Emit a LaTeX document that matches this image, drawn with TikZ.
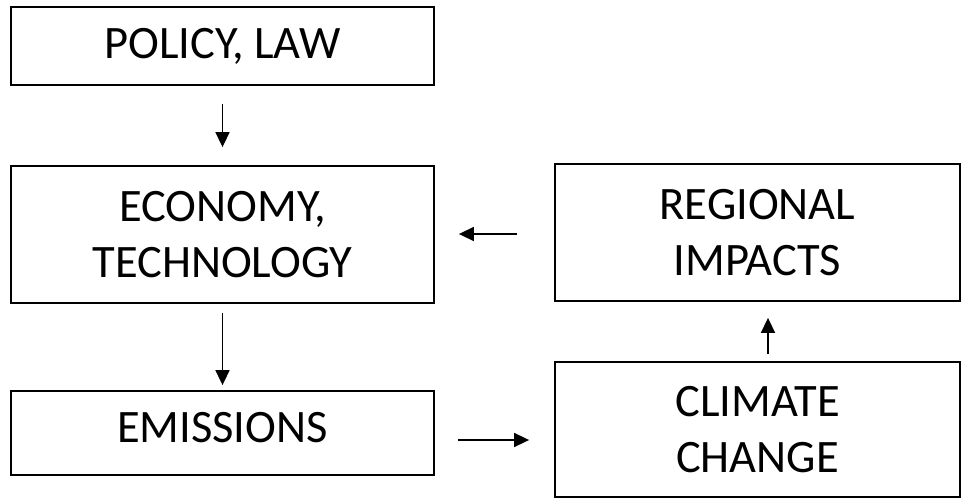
\documentclass[tikz,border=0pt]{standalone}
\usepackage{fontspec}
\setmainfont{Carlito}
\usetikzlibrary{arrows.meta}

\tikzset{
  box/.style={draw, line width=1.8pt, inner sep=0pt, align=center,
    font=\fontsize{46.5pt}{56pt}\selectfont},
  leftbox/.style={box, minimum width=423pt},
  rightbox/.style={box, minimum width=405pt},
  flow/.style={-{Triangle[length=15pt,width=14pt]}, line width=1.6pt}
}

\begin{document}
\begin{tikzpicture}[x=1pt,y=-1pt]
\useasboundingbox (0,0) rectangle (967,498);

\node[leftbox, minimum height=78pt] (policy) at (222.5,46) {POLICY, LAW};
\node[leftbox, minimum height=137pt] (economy) at (222.5,234.5) {ECONOMY,\\TECHNOLOGY};
\node[leftbox, minimum height=84pt, text depth=11pt] (emissions) at (222.5,433) {EMISSIONS};
\node[rightbox, minimum height=137pt] (regional) at (757.5,232.5) {REGIONAL\\IMPACTS};
\node[rightbox, minimum height=135pt] (climate) at (757.5,429.5) {CLIMATE\\CHANGE};

\draw[flow, shorten <=18pt, shorten >=18pt] (policy) -- (economy);
\draw[flow, shorten <=9pt, shorten >=5pt] (economy) -- (emissions);
\draw[flow, shorten <=23pt, shorten >=25pt]
  ([yshift=-7pt]emissions.east) -- ([yshift=-7pt]emissions.east -| climate.west);
\draw[flow, shorten <=7pt, shorten >=16pt]
  ([xshift=10.5pt]climate.north) -- ([xshift=10.5pt]climate.north |- regional.south);
\draw[flow, shorten <=37pt, shorten >=24pt]
  ([yshift=-1.5pt]regional.west) -- ([yshift=-1.5pt]regional.west -| economy.east);
\end{tikzpicture}
\end{document}
